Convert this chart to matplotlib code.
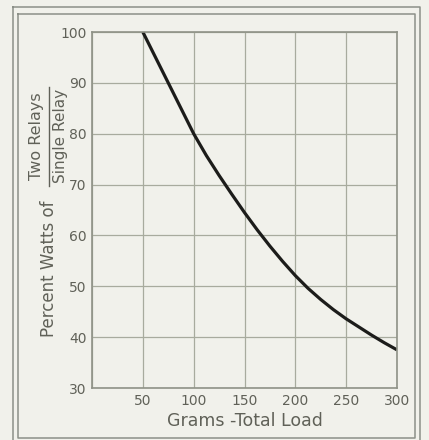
import matplotlib
matplotlib.use('Agg')
import matplotlib.pyplot as plt
from matplotlib.lines import Line2D

# curve
grams = [50, 62.5, 75, 87.5, 100, 112.5, 125, 137.5, 150, 162.5, 175, 187.5,
         200, 212.5, 225, 237.5, 250, 262.5, 275, 287.5, 300]
percent = [100, 95, 90, 85, 80, 75.7, 71.8, 68.1, 64.5, 61.1, 57.9, 54.9,
           52.1, 49.6, 47.4, 45.4, 43.6, 42.0, 40.4, 38.9, 37.5]

x_ticks = [50, 100, 150, 200, 250, 300]
y_ticks = [30, 40, 50, 60, 70, 80, 90, 100]

bg = '#f1f1eb'
grid_col = '#a8ab9e'
text_col = '#606158'
plt.rcParams['font.family'] = ['DejaVu Sans']

W, H = 429, 440
fig = plt.figure(figsize=(W / 100, H / 100), dpi=100, facecolor=bg)

def px(x, y):
    return x / W, 1 - y / H

l, t = px(92, 32)
r, b = px(397, 388)
ax = fig.add_axes([l, b, r - l, t - b], facecolor=bg)

ax.plot(grams, percent, color='#1c1c1a', lw=2.3, solid_capstyle='butt')
ax.set_xlim(0, 300)
ax.set_ylim(30, 100)
ax.set_xticks([0] + x_ticks)
ax.set_xticklabels([''] + [str(v) for v in x_ticks])
ax.set_yticks(y_ticks)
ax.grid(True, color=grid_col, lw=0.9)
ax.tick_params(length=0, labelsize=10, colors=text_col, pad=4)
for s in ax.spines.values():
    s.set_color('#8f9287')
    s.set_linewidth(1.2)

ax.set_xlabel('Grams -Total Load', fontsize=12.5, color=text_col, labelpad=3)

# y label with the fraction
fig.text(*px(49, 269), 'Percent Watts of', rotation=90, ha='center', va='center',
         fontsize=12, color=text_col)
fig.text(*px(37, 136), 'Two Relays', rotation=90, ha='center', va='center',
         fontsize=11.5, color=text_col)
fig.text(*px(60, 136), 'Single Relay', rotation=90, ha='center', va='center',
         fontsize=11, color=text_col)
x0, y0 = px(48.5, 186)
x1, y1 = px(48.5, 87)
fig.add_artist(Line2D([x0, x1], [y0, y1], color=text_col, lw=1.0))

# double frame round the figure
def frame(xa, ya, xb, yb):
    ax0, ay0 = px(xa, ya)
    ax1, ay1 = px(xb, yb)
    fig.add_artist(Line2D([ax0, ax1, ax1, ax0, ax0], [ay0, ay0, ay1, ay1, ay0],
                          color='#8c9088', lw=1.1))

frame(13, 7, 420, 445)
frame(18, 14, 415, 438)

fig.savefig('out.png', dpi=100, facecolor=bg)
